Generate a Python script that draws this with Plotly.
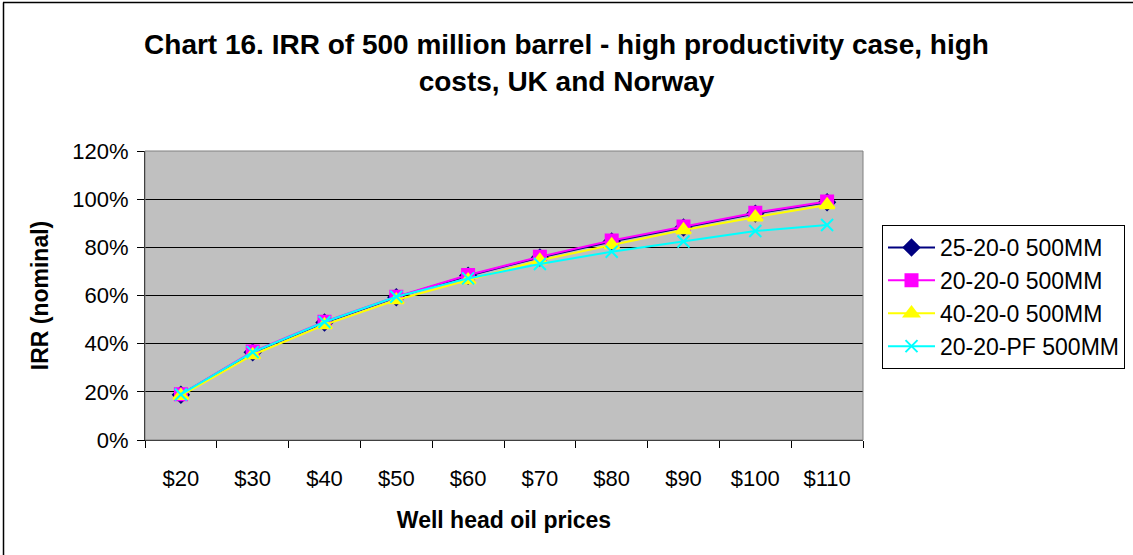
import plotly.graph_objects as go

categories = ["$20", "$30", "$40", "$50", "$60", "$70", "$80", "$90", "$100", "$110"]
s_25_20_0 = [18.8, 36.4, 48.8, 59.3, 68.2, 75.8, 82.4, 88.2, 94.0, 98.7]
s_20_20_0 = [19.0, 36.7, 49.1, 59.5, 68.5, 76.1, 82.8, 88.6, 94.4, 99.0]
s_40_20_0 = [18.4, 35.3, 47.8, 58.1, 66.4, 74.6, 81.0, 87.2, 92.5, 97.6]
s_20_20_pf = [18.9, 36.5, 49.0, 59.5, 67.1, 73.1, 78.2, 82.4, 86.8, 89.3]
y_ticks = [0, 20, 40, 60, 80, 100, 120]

FONT = "Liberation Sans, Arial, sans-serif"
x = list(range(len(categories)))

fig = go.Figure()
series = [
    ("25-20-0 500MM", s_25_20_0, "#000080", "diamond", 12),
    ("20-20-0 500MM", s_20_20_0, "#FF00FF", "square", 12),
    ("40-20-0 500MM", s_40_20_0, "#FFFF00", "triangle-up", 13),
    ("20-20-PF 500MM", s_20_20_pf, "#00FFFF", "x-thin", 12),
]
for name, vals, col, sym, sz in series:
    fig.add_trace(go.Scatter(
        x=x, y=[v / 100 for v in vals], name=name, mode="lines+markers",
        line=dict(color=col, width=2),
        marker=dict(symbol=sym, size=sz, color=col, line=dict(color=col, width=2)),
    ))

L, R, T, B = 145, 270, 151, 115
W, H = 1133, 555
pw, ph = W - L - R, H - T - B

def px_x(p):
    return (p - L) / pw

def px_y(p):
    return (H - B - p) / ph

fig.update_layout(
    width=W, height=H,
    margin=dict(l=L, r=R, t=T, b=B, autoexpand=False),
    paper_bgcolor="white",
    plot_bgcolor="#C0C0C0",
    font=dict(family=FONT, size=22, color="black"),
    title=dict(
        text="<b>Chart 16. IRR of 500 million barrel - high productivity case, high<br>costs, UK and Norway</b>",
        x=0.5, xanchor="center", y=0.902, yanchor="top",
        font=dict(family=FONT, size=28, color="black"),
    ),
    showlegend=True,
    legend=dict(
        x=px_x(882), xanchor="left",
        y=px_y(225), yanchor="top",
        bgcolor="white", bordercolor="black", borderwidth=1,
        font=dict(family=FONT, size=23, color="black"),
        itemwidth=47,
        tracegroupgap=0,
    ),
    xaxis=dict(
        range=[-0.5, len(categories) - 0.5],
        tickmode="array", tickvals=x, ticktext=categories,
        ticks="", showgrid=False, zeroline=False,
        showline=True, linecolor="black", linewidth=1,
        tickfont=dict(size=22),
        ticklabelstandoff=19,
        minor=dict(ticks="outside", tick0=-0.5, dtick=1, ticklen=7, tickcolor="black", showgrid=False),
        title=dict(text="<b>Well head oil prices</b>", font=dict(size=23), standoff=21),
    ),
    yaxis=dict(
        range=[0, 1.2],
        tickmode="array", tickvals=[v / 100 for v in y_ticks],
        ticktext=[f"{v}%" for v in y_ticks],
        ticks="outside", ticklen=7, tickcolor="black",
        showgrid=True, gridcolor="black", gridwidth=1,
        zeroline=False,
        showline=True, linecolor="black", linewidth=1,
        tickfont=dict(size=22),
        ticklabelstandoff=4,
        title=dict(text="<b>IRR (nominal)</b>", font=dict(size=23), standoff=17),
    ),
    shapes=[
        dict(type="rect", xref="paper", yref="paper", x0=0, x1=1, y0=0, y1=1,
             line=dict(color="#808080", width=1), layer="above"),
        dict(type="line", xref="paper", yref="paper",
             x0=px_x(3.5), x1=px_x(3.5), y0=px_y(2.5), y1=px_y(556),
             line=dict(color="black", width=1.5)),
        dict(type="line", xref="paper", yref="paper",
             x0=px_x(3), x1=px_x(1134), y0=px_y(2.5), y1=px_y(2.5),
             line=dict(color="black", width=1.5)),
    ],
)

fig.write_html("out.html", config={"displayModeBar": False},
               post_script="document.body.style.margin='0';document.body.style.overflow='hidden';")
